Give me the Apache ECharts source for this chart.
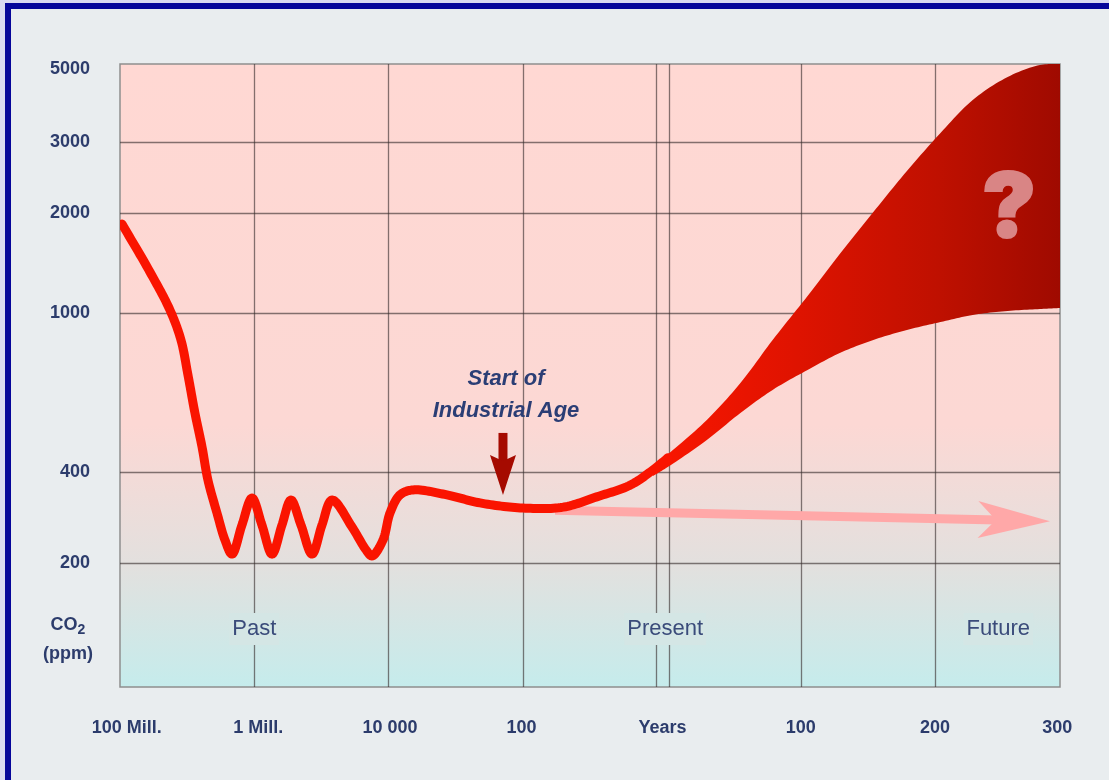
<!DOCTYPE html>
<html><head><meta charset="utf-8">
<script src="https://cdn.jsdelivr.net/npm/echarts@6/dist/echarts.min.js"></script>
<style>
html,body{margin:0;padding:0;width:1109px;height:780px;overflow:hidden;background:#d9d9f1;}
#frame{position:absolute;left:5px;top:3px;right:0;bottom:0;border-left:6px solid #06069a;border-top:6px solid #06069a;background:#e9edef;}
#chart{position:absolute;left:0;top:0;width:1109px;height:780px;}
</style></head><body><div id="frame"></div><div id="chart"></div>
<script>
// ---------------- data ----------------
const yTickPpm = [200, 400, 1000, 2000, 3000, 5000];
const yTickLabels = ['200', '400', '1000', '2000', '3000', '5000'];
const xTickLabels = ['100 Mill.', '1 Mill.', '10 000', '100', 'Years', '100', '200', '300'];
const xTickAt = [0.05, 1.03, 2.01, 2.99, 4.04, 5.07, 6.07, 6.98];
const xGridAt = [1, 2, 3, 3.99, 4.09, 5.07, 6.07];
const eraLabels = ['Past', 'Present', 'Future'];
const eraAt = [1.0, 4.06, 6.54];
const eraRowPpm = 121;

// CO2 history curve (schematic time position, ppm)
const curveX = [0.015, 0.223, 0.372, 0.454, 0.506, 0.558, 0.611, 0.655, 0.722, 0.782, 0.834, 0.908, 0.983, 1.057, 1.132, 1.206, 1.273, 1.348, 1.43, 1.504, 1.579, 1.728, 1.832, 1.877, 1.958, 2.011, 2.085, 2.182, 2.435, 2.681, 3.0, 3.3, 3.55, 3.80, 3.97, 4.08];
const curvePpm = [1853, 1329, 1021, 856, 700, 562, 462, 376, 293, 238, 214, 267, 328, 267, 214, 267, 323, 267, 214, 267, 323, 263, 221, 211, 238, 293, 336, 349, 336, 316, 304, 306, 331, 362, 405, 434];

// Future projection band
const bandX = [3.97, 4.10, 4.37, 4.62, 4.86, 5.12, 5.36, 5.61, 5.86, 6.11, 6.35, 6.61, 6.85, 7.0];
const bandHighPpm = [414, 449, 540, 668, 856, 1125, 1505, 2011, 2542, 3182, 3950, 4592, 4967, 5000];
const bandLowPpm = [388, 416, 481, 562, 642, 720, 794, 856, 907, 949, 989, 1014, 1028, 1035];

// Flat trend arrow (pink) and industrial-age marker arrow (start, tip)
const trendX = [3.24, 6.925];
const trendPpm = [299, 275];
const industrialX = [2.852, 2.852];
const industrialPpm = [501, 336];
const industrialText = ['Start of', 'Industrial Age'];
const questionX = 6.62;
const questionPpm = 2040;

// ---------------- schematic y scale ----------------
const Y_TICK_POS = [124, 215, 374, 474, 545, 623];
const Y_MAX = 623;
function pos(ppm) {
  const t = yTickPpm, p = Y_TICK_POS;
  let i = 0;
  if (ppm <= t[0]) i = 0;
  else if (ppm >= t[t.length - 1]) i = t.length - 2;
  else { while (i < t.length - 2 && ppm > t[i + 1]) i++; }
  const f = Math.log(ppm / t[i]) / Math.log(t[i + 1] / t[i]);
  return p[i] + f * (p[i + 1] - p[i]);
}
function nearestIndex(v, at) {
  let bi = 0, bd = Infinity;
  at.forEach((a, i) => { const d = Math.abs(a - v); if (d < bd) { bd = d; bi = i; } });
  return bi;
}
// centripetal Catmull-Rom smoothing of pixel points (rendering only)
function spline(pts, n) {
  n = n || 12;
  if (pts.length < 3) return pts.slice();
  const L = pts.length;
  const P = [[2 * pts[0][0] - pts[1][0], 2 * pts[0][1] - pts[1][1]]].concat(pts,
    [[2 * pts[L - 1][0] - pts[L - 2][0], 2 * pts[L - 1][1] - pts[L - 2][1]]]);
  const d = (a, b) => Math.pow(Math.hypot(b[0] - a[0], b[1] - a[1]), 0.5) || 1e-4;
  const out = [];
  for (let i = 1; i < P.length - 2; i++) {
    const p0 = P[i - 1], p1 = P[i], p2 = P[i + 1], p3 = P[i + 2];
    const t0 = 0, t1 = t0 + d(p0, p1), t2 = t1 + d(p1, p2), t3 = t2 + d(p2, p3);
    for (let k = 0; k < n; k++) {
      const t = t1 + (t2 - t1) * k / n;
      const lerp = (a, b, ta, tb) => [(tb - t) / (tb - ta) * a[0] + (t - ta) / (tb - ta) * b[0],
                                      (tb - t) / (tb - ta) * a[1] + (t - ta) / (tb - ta) * b[1]];
      const A1 = lerp(p0, p1, t0, t1), A2 = lerp(p1, p2, t1, t2), A3 = lerp(p2, p3, t2, t3);
      const B1 = lerp(A1, A2, t0, t2), B2 = lerp(A2, A3, t1, t3);
      out.push(lerp(B1, B2, t1, t2));
    }
  }
  out.push(pts[L - 1]);
  return out;
}
function arrowEls(api, xs, ppms, headLen, headW, shaftW, notch, color) {
  const a = api.coord([xs[0], pos(ppms[0])]), b = api.coord([xs[1], pos(ppms[1])]);
  const dx = b[0] - a[0], dy = b[1] - a[1], len = Math.hypot(dx, dy);
  const ux = dx / len, uy = dy / len, nx = -uy, ny = ux;
  const base = [b[0] - ux * headLen, b[1] - uy * headLen];
  const nt = [b[0] - ux * headLen * notch, b[1] - uy * headLen * notch];
  const se = [nt[0] + ux * 2, nt[1] + uy * 2];
  const h = shaftW / 2, w = headW / 2;
  return [
    { type: 'polygon', shape: { points: [[a[0] + nx * h, a[1] + ny * h], [se[0] + nx * h, se[1] + ny * h], [se[0] - nx * h, se[1] - ny * h], [a[0] - nx * h, a[1] - ny * h]] }, style: { fill: color } },
    { type: 'polygon', shape: { points: [b, [base[0] + nx * w, base[1] + ny * w], nt, [base[0] - nx * w, base[1] - ny * w]] }, style: { fill: color } }
  ];
}

const FONT = '"Liberation Sans", Arial, Helvetica, sans-serif';
const NAVY = '#2c3c6c';
const gridLineStyle = { color: 'rgba(55,45,45,0.62)', width: 1.3, type: 'solid' };
const yTickPosValues = yTickPpm.map(pos);

const chart = echarts.init(document.getElementById('chart'), null, { renderer: 'canvas' });
chart.setOption({
  animation: false,
  backgroundColor: 'transparent',
  grid: {
    left: 120, right: 49, top: 64, bottom: 93,
    show: true,
    borderColor: '#8e8e8e', borderWidth: 1.5,
    backgroundColor: {
      type: 'linear', x: 0, y: 0, x2: 0, y2: 1,
      colorStops: [
        { offset: 0, color: '#ffd8d3' },
        { offset: 0.58, color: '#fcd8d4' },
        { offset: 0.80, color: '#e3e0de' },
        { offset: 1, color: '#c5ecec' }
      ]
    }
  },
  xAxis: {
    type: 'value', min: 0, max: 7,
    axisLine: { show: false }, axisTick: { show: false }, splitLine: { show: false },
    axisLabel: {
      customValues: xTickAt,
      formatter: v => xTickLabels[nearestIndex(v, xTickAt)],
      margin: 32, fontFamily: FONT, fontWeight: 'bold', fontSize: 18, color: NAVY
    }
  },
  yAxis: {
    type: 'value', min: 0, max: Y_MAX,
    axisLine: { show: false }, axisTick: { show: false }, splitLine: { show: false },
    axisLabel: {
      customValues: yTickPosValues,
      formatter: v => {
        const i = nearestIndex(v, yTickPosValues);
        return i === yTickLabels.length - 1 ? '{top|' + yTickLabels[i] + '}' : yTickLabels[i];
      },
      rich: { top: { fontFamily: FONT, fontWeight: 'bold', fontSize: 18, color: NAVY, padding: [10, 0, 0, 0] } },
      margin: 30, fontFamily: FONT, fontWeight: 'bold', fontSize: 18, color: NAVY
    }
  },
  graphic: [{
    type: 'text', x: 68, y: 611, z: 10,
    style: {
      text: '{a|CO}{s|2}\n{a|(ppm)}',
      align: 'center', verticalAlign: 'top',
      rich: {
        a: { fontFamily: FONT, fontWeight: 'bold', fontSize: 18, fill: NAVY, lineHeight: 29 },
        s: { fontFamily: FONT, fontWeight: 'bold', fontSize: 14, fill: NAVY, lineHeight: 29, padding: [9, 0, 0, 0] }
      }
    }
  }],
  series: [
    {
      name: 'grid', type: 'line', data: [], silent: true, z: 1,
      markLine: {
        silent: true, z: 1, symbol: ['none', 'none'], animation: false,
        label: { show: false }, lineStyle: gridLineStyle,
        emphasis: { disabled: true },
        data: yTickPpm.slice(0, 5).map(p => ({ yAxis: pos(p) }))
          .concat(xGridAt.map(x => ({ xAxis: x })))
      }
    },
    {
      name: 'trend', type: 'custom', coordinateSystem: 'cartesian2d', data: [[0, 0]], silent: true, z: 2,
      renderItem: (params, api) => ({
        type: 'group', children: arrowEls(api, trendX, trendPpm, 72, 37, 9, 0.75, '#ffa8a8')
      })
    },
    {
      name: 'band', type: 'custom', coordinateSystem: 'cartesian2d', data: [[0, 0]], silent: true, z: 3, clip: true,
      renderItem: (params, api) => {
        const up = bandX.map((x, i) => api.coord([x, pos(bandHighPpm[i])]));
        const lo = bandX.map((x, i) => api.coord([x, pos(bandLowPpm[i])]));
        const pts = spline(up).concat(spline(lo).reverse());
        return {
          type: 'polygon', shape: { points: pts },
          style: {
            fill: {
              type: 'linear', x: 0, y: 0, x2: 1, y2: 0,
              colorStops: [
                { offset: 0, color: '#fa1600' },
                { offset: 0.35, color: '#df1300' },
                { offset: 0.7, color: '#bf1000' },
                { offset: 1, color: '#9f0a00' }
              ]
            }
          }
        };
      }
    },
    {
      name: 'CO2', type: 'custom', coordinateSystem: 'cartesian2d', data: [[0, 0]], silent: true, z: 4, clip: true,
      renderItem: (params, api) => {
        const pts = curveX.map((x, i) => api.coord([x, pos(curvePpm[i])]));
        return {
          type: 'polyline', shape: { points: spline(pts, 16) },
          style: { stroke: '#fa1400', lineWidth: 9, fill: null, lineCap: 'round', lineJoin: 'round' }
        };
      }
    },
    {
      name: 'industrial', type: 'custom', coordinateSystem: 'cartesian2d', data: [[0, 0]], silent: true, z: 6,
      renderItem: (params, api) => {
        const els = arrowEls(api, industrialX, industrialPpm, 40, 26, 9, 0.85, '#a50a00');
        const s = api.coord([industrialX[0], pos(industrialPpm[0])]);
        industrialText.forEach((t, i) => {
          els.push({
            type: 'text', x: s[0] + 3, y: s[1] - 54 + i * 32,
            style: { text: t, font: 'italic bold 22px ' + FONT, fill: '#2b3e75', align: 'center', verticalAlign: 'middle' }
          });
        });
        return { type: 'group', children: els };
      }
    },
    {
      name: 'annotations', type: 'line', data: [], silent: true, z: 6,
      markPoint: {
        silent: true, z: 6, symbol: 'circle', symbolSize: 0, animation: false,
        data: eraLabels.map((t, i) => ({
          coord: [eraAt[i], pos(eraRowPpm)],
          label: {
            show: true, position: 'inside', formatter: t,
            fontFamily: FONT, fontSize: 22, color: '#3a4b7a',
            backgroundColor: '#d4e6e5', padding: [5, 3]
          }
        })).concat([{
          coord: [questionX, pos(questionPpm)],
          label: {
            show: true, position: 'inside', formatter: '?',
            fontFamily: 'Inter, "DejaVu Sans", sans-serif', fontWeight: 900, fontSize: 90, color: '#d98585',
            textBorderColor: '#d98585', textBorderWidth: 2
          }
        }])
      }
    }
  ]
});
</script></body></html>
